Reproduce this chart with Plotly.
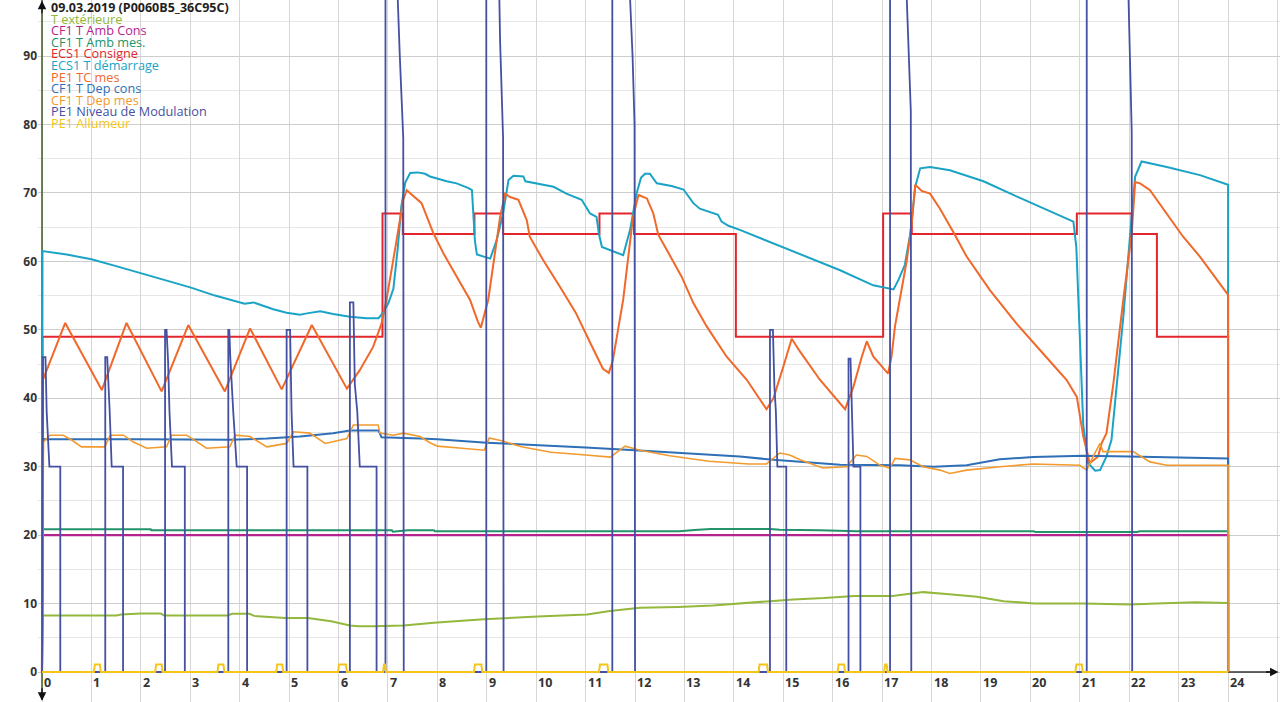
import plotly.graph_objects as go

# ---------------- data ----------------
title_text = "09.03.2019 (P0060B5_36C95C)"
series_names = ["T extérieure", "CF1 T Amb Cons", "CF1 T Amb mes.", "ECS1 Consigne",
                "ECS1 T démarrage", "PE1 TC mes", "CF1 T Dep cons", "CF1 T Dep mes",
                "PE1 Niveau de Modulation", "PE1 Allumeur"]

x_tick_values = [0, 1, 2, 3, 4, 5, 6, 7, 8, 9, 10, 11, 12, 13, 14, 15, 16, 17, 18, 19, 20, 21, 22, 23, 24]
x_tick_labels = ["0", "1", "2", "3", "4", "5", "6", "7", "8", "9", "10", "11", "12",
                 "13", "14", "15", "16", "17", "18", "19", "20", "21", "22", "23", "24"]
y_tick_values = [0, 10, 20, 30, 40, 50, 60, 70, 80, 90]
y_tick_labels = ["0", "10", "20", "30", "40", "50", "60", "70", "80", "90"]

t_exterieure = [(0, 0), (0.01, 8.26), (1.51, 8.26), (1.6, 8.4), (2.0, 8.55), (2.4, 8.55), (2.47, 8.26),
                (3.75, 8.26), (3.85, 8.5), (4.2, 8.5), (4.29, 8.2), (4.92, 7.9), (5.38, 7.9), (5.85, 7.4),
                (6.23, 6.8), (6.4, 6.7), (6.7, 6.7), (7.32, 6.8), (7.93, 7.2), (8.94, 7.7), (10.03, 8.1),
                (11.03, 8.4), (11.49, 8.9), (12.1, 9.4), (12.87, 9.5), (13.57, 9.7), (14.73, 10.35),
                (15.2, 10.6), (15.82, 10.8), (16.44, 11.1), (17.21, 11.1), (17.83, 11.67), (18.3, 11.4),
                (18.92, 11.0), (19.46, 10.35), (20.08, 10.0), (21.08, 10.0), (22.02, 9.87), (22.55, 10.0),
                (23.33, 10.2), (24.0, 10.1), (24.0, 0)]

amb_cons = [(0, 0), (0.01, 20), (24.0, 20), (24.0, 0)]

amb_mes = [(0, 0), (0.01, 20.85), (2.2, 20.85), (2.21, 20.7), (7.08, 20.7), (7.1, 20.5), (7.4, 20.7),
           (7.93, 20.7), (7.95, 20.55), (11.38, 20.55), (11.4, 20.45), (12.1, 20.5), (12.9, 20.55),
           (13.2, 20.75), (13.53, 20.9), (14.73, 20.9), (14.93, 20.8), (15.74, 20.7), (16.5, 20.55),
           (20.07, 20.55), (20.1, 20.45), (22.17, 20.45), (22.2, 20.55), (24.0, 20.55), (24.0, 0)]

ecs_consigne = [(0, 0), (0.01, 49), (6.89, 49), (6.89, 67), (7.30, 67), (7.30, 64), (8.75, 64), (8.75, 67),
                (9.33, 67), (9.33, 64), (11.28, 64), (11.28, 67), (11.98, 67), (11.98, 64), (14.04, 64),
                (14.04, 49), (17.02, 49), (17.02, 67), (17.6, 67), (17.6, 64), (20.94, 64), (20.94, 67),
                (22.05, 67), (22.05, 64), (22.56, 64), (22.56, 49), (24.0, 49), (24.0, 0)]

ecs_t_demarrage = [(0, 0), (0.01, 61.5), (0.5, 61.0), (1.0, 60.3), (1.5, 59.3), (2.0, 58.3), (2.5, 57.2),
                   (3.0, 56.2), (3.5, 55.0), (4.1, 53.8), (4.28, 54.0), (4.68, 53.0), (4.95, 52.5),
                   (5.22, 52.2), (5.36, 52.4), (5.63, 52.7), (5.89, 52.3), (6.23, 51.9), (6.57, 51.7),
                   (6.81, 51.7), (6.91, 52.6), (7.01, 53.9), (7.11, 56), (7.2, 62), (7.27, 68), (7.35, 71.5),
                   (7.45, 72.9), (7.6, 73.0), (7.75, 72.8), (7.85, 72.4), (8.19, 71.7), (8.39, 71.4),
                   (8.63, 70.7), (8.70, 70.4), (8.76, 63), (8.80, 61), (9.07, 60.4), (9.2, 63.1), (9.33, 67),
                   (9.44, 71.9), (9.54, 72.5), (9.74, 72.4), (9.78, 71.7), (10.08, 71.3), (10.35, 70.9),
                   (10.61, 69.9), (10.92, 69.0), (11.09, 67.0), (11.22, 66.5), (11.27, 64), (11.33, 62.1),
                   (11.76, 60.9), (11.9, 64.6), (12.03, 69.9), (12.12, 72.2), (12.2, 72.8), (12.3, 72.8),
                   (12.44, 71.4), (12.74, 71.0), (12.98, 70.5), (13.04, 69.9), (13.18, 68.5), (13.31, 67.7),
                   (13.68, 66.8), (13.75, 65.8), (13.89, 65.2), (14.12, 64.6), (14.8, 62.6), (15.47, 60.7),
                   (16.15, 58.7), (16.82, 56.5), (17.09, 56.1), (17.23, 55.9), (17.33, 57.3), (17.46, 59.5),
                   (17.57, 64.1), (17.67, 70.9), (17.77, 73.6), (17.97, 73.8), (18.37, 73.3), (19.05, 71.7),
                   (19.72, 69.5), (20.4, 67.3), (20.87, 65.8), (20.93, 62), (21.07, 36), (21.17, 30.5),
                   (21.31, 29.4), (21.41, 29.5), (21.54, 31.5), (21.64, 33.9), (21.75, 42.2), (21.88, 51.9),
                   (22.02, 64.1), (22.12, 72.4), (22.25, 74.6), (22.76, 73.8), (23.43, 72.6), (24.0, 71.2),
                   (24.0, 0)]

pe_tc_mes = [(0, 0), (0.02, 42.7), (0.47, 51.0), (1.21, 41.2), (1.71, 51.0), (2.42, 41.0), (2.96, 50.7),
             (3.70, 41.0), (4.21, 50.2), (4.85, 41.3), (5.46, 50.7), (6.17, 41.4), (6.43, 44.1), (6.7, 47.5),
             (6.87, 50.9), (6.97, 54.4), (7.15, 62), (7.31, 69), (7.38, 70.4), (7.55, 69.4), (7.68, 68.5),
             (7.92, 64.1), (8.12, 61.2), (8.39, 57.8), (8.66, 54.4), (8.82, 51.2), (8.88, 50.3), (9.03, 54.4),
             (9.27, 66.5), (9.37, 69.9), (9.47, 69.4), (9.64, 69.0), (9.81, 66.0), (9.87, 63.6), (10.14, 60.2),
             (10.48, 56.3), (10.8, 52.5), (11.1, 48), (11.35, 44.3), (11.47, 43.7), (11.55, 45.5),
             (11.76, 54.4), (11.96, 66.5), (12.07, 69.7), (12.24, 69.2), (12.37, 67.0), (12.47, 63.9),
             (12.64, 61.7), (12.94, 57.8), (13.18, 53.9), (13.45, 50.5), (13.85, 46.1), (14.26, 42.7),
             (14.66, 38.4), (14.8, 40.0), (15.0, 44.6), (15.17, 48.7), (15.34, 46.8), (15.74, 42.7),
             (16.25, 38.4), (16.42, 41.7), (16.59, 46.1), (16.69, 48.3), (16.82, 46.1), (17.12, 43.6),
             (17.19, 46.1), (17.26, 50.5), (17.5, 60.2), (17.6, 65.6), (17.67, 71.2), (17.8, 70.3),
             (17.97, 69.9), (18.17, 67.7), (18.44, 64.3), (18.71, 60.7), (19.18, 55.8), (19.72, 50.9),
             (20.26, 46.5), (20.73, 42.7), (20.94, 40.2), (21.07, 34.4), (21.14, 32.4), (21.2, 30.5),
             (21.37, 31.5), (21.44, 33.4), (21.54, 34.9), (21.68, 42.2), (21.88, 54.4), (22.05, 64.1),
             (22.12, 71.6), (22.22, 71.4), (22.42, 70.4), (22.76, 67.0), (23.09, 63.6), (23.43, 60.7),
             (23.77, 57.3), (24.0, 55.1), (24.0, 0)]

dep_cons = [(0, 0), (0.02, 34.0), (2.0, 34.0), (3.8, 33.95), (4.55, 34.1), (5.22, 34.4), (5.89, 34.9),
            (6.23, 35.3), (6.81, 35.3), (6.87, 34.3), (7.65, 34.1), (8.0, 34.0), (9.0, 33.5), (10.0, 33.2),
            (11.0, 32.8), (12.0, 32.4), (13.0, 32.0), (14.12, 31.5), (14.8, 31.0), (15.47, 30.6),
            (16.15, 30.3), (17.36, 30.2), (18.04, 30.0), (18.71, 30.2), (19.38, 31.1), (20.06, 31.4),
            (21.07, 31.6), (22.0, 31.5), (24.0, 31.2), (24.0, 0)]

dep_mes = [(0, 0), (0.03, 33.6), (0.16, 34.6), (0.43, 34.6), (0.6, 33.9), (0.8, 32.9), (1.27, 32.9),
           (1.38, 34.6), (1.65, 34.6), (1.85, 33.6), (2.12, 32.7), (2.52, 32.9), (2.62, 34.6), (2.93, 34.6),
           (3.33, 32.7), (3.8, 32.9), (3.91, 34.6), (4.21, 34.4), (4.55, 32.9), (4.95, 33.4), (5.09, 35.1),
           (5.42, 34.9), (5.73, 33.4), (6.17, 34.1), (6.3, 36.1), (6.8, 36.1), (6.84, 34.9), (7.11, 34.6),
           (7.31, 34.9), (7.65, 34.4), (7.85, 33.5), (8.0, 33.0), (8.5, 32.7), (8.95, 32.4), (9.05, 34.2),
           (9.3, 33.8), (9.7, 32.9), (10.3, 32.1), (11.0, 31.7), (11.5, 31.4), (11.65, 32.2), (11.8, 33.0),
           (12.1, 32.4), (12.7, 31.6), (13.5, 30.8), (14.3, 30.4), (14.66, 30.4), (14.76, 31.0),
           (14.93, 32.0), (15.13, 31.7), (15.34, 31.0), (15.8, 29.8), (16.28, 30.0), (16.48, 31.7),
           (16.69, 31.5), (16.96, 30.2), (17.16, 29.8), (17.26, 31.2), (17.56, 31.0), (17.83, 30.0),
           (18.17, 29.5), (18.37, 29.0), (18.71, 29.5), (19.38, 30.0), (20.06, 30.4), (21.0, 30.2),
           (21.14, 29.5), (21.27, 31.5), (21.41, 33.4), (21.47, 32.2), (22.08, 32.2), (22.42, 30.7),
           (22.76, 30.2), (23.43, 30.2), (24.0, 30.2), (24.0, 0)]

niveau_modulation = [(0, 0), (0.02, 46), (0.07, 46), (0.095, 38), (0.15, 30), (0.37, 30), (0.37, 0),
                     (1.28, 0), (1.28, 46), (1.32, 46), (1.37, 38), (1.41, 30), (1.64, 30), (1.64, 0),
                     (2.49, 0), (2.49, 50), (2.52, 50), (2.55, 45.6), (2.58, 38), (2.63, 30), (2.89, 30), (2.89, 0),
                     (3.77, 0), (3.77, 50), (3.79, 50), (3.81, 46), (3.87, 38), (3.94, 30), (4.15, 30), (4.15, 0),
                     (4.95, 0), (4.95, 50), (5.02, 50), (5.05, 38), (5.09, 30), (5.37, 30), (5.37, 0),
                     (6.23, 0), (6.23, 54), (6.30, 54), (6.33, 42), (6.38, 38), (6.43, 30), (6.77, 30), (6.77, 0),
                     (6.95, 0), (6.95, 100), (7.19, 100), (7.24, 90), (7.31, 78), (7.32, 0),
                     (8.99, 0), (8.99, 100), (9.25, 100), (9.27, 92), (9.30, 84), (9.33, 78), (9.34, 0),
                     (11.54, 0), (11.54, 100), (11.89, 100), (11.95, 90), (11.99, 80), (12.0, 0),
                     (14.73, 0), (14.73, 50), (14.79, 50), (14.82, 41.7), (14.85, 38), (14.88, 30), (15.06, 30), (15.06, 0),
                     (16.32, 0), (16.32, 45.8), (16.36, 45.8), (16.39, 37.8), (16.42, 30), (16.56, 30), (16.56, 0),
                     (17.16, 0), (17.16, 100), (17.49, 100), (17.58, 82), (17.59, 0),
                     (21.14, 0), (21.14, 100), (21.98, 100), (22.05, 79), (22.06, 0),
                     (24.0, 0)]

allumeur = [(0, 0), (1.05, 0), (1.07, 1.1), (1.17, 1.1), (1.19, 0), (2.29, 0), (2.31, 1.1), (2.42, 1.1), (2.44, 0),
            (3.55, 0), (3.57, 1.1), (3.67, 1.1), (3.69, 0), (4.74, 0), (4.76, 1.1), (4.86, 1.1), (4.88, 0),
            (5.99, 0), (6.01, 1.1), (6.15, 1.1), (6.17, 0), (6.90, 0), (6.92, 1.1), (6.94, 1.1), (6.96, 0),
            (8.74, 0), (8.76, 1.1), (8.89, 1.1), (8.91, 0), (11.27, 0), (11.29, 1.1), (11.44, 1.1), (11.46, 0),
            (14.50, 0), (14.52, 1.1), (14.67, 1.1), (14.69, 0), (16.10, 0), (16.12, 1.1), (16.23, 1.1), (16.25, 0),
            (17.04, 0), (17.06, 1.1), (17.09, 1.1), (17.11, 0), (20.91, 0), (20.93, 1.1), (21.04, 1.1), (21.06, 0),
            (24.0, 0)]

series_data = [t_exterieure, amb_cons, amb_mes, ecs_consigne, ecs_t_demarrage,
               pe_tc_mes, dep_cons, dep_mes, niveau_modulation, allumeur]

# ---------------- styling ----------------
series_colors = ["#94b83c", "#b4238f", "#22936a", "#e3262c", "#1ba3c6",
                 "#f0682a", "#2e6fb7", "#f39a2e", "#4450a2", "#f5c518"]
series_widths = [2, 2.2, 2, 2, 2, 2, 2, 1.6, 1.8, 2]

W, H = 1280, 702
L = 38
x0_px, px_per_h = 42, 49.42
y0_px, px_per_u = 672, 6.844
x_range = [(L - x0_px) / px_per_h, (W - x0_px) / px_per_h]
y_range = [-(H - y0_px) / px_per_u, y0_px / px_per_u]
plot_w = W - L

FONT = "Open Sans"

fig = go.Figure()
for name, pts, col, lw in zip(series_names, series_data, series_colors, series_widths):
    fig.add_trace(go.Scatter(x=[p[0] for p in pts], y=[p[1] for p in pts], mode="lines",
                             name=name, line=dict(color=col, width=lw), hoverinfo="skip"))

fig.update_layout(
    width=W, height=H, margin=dict(l=L, r=0, t=0, b=0),
    plot_bgcolor="white", paper_bgcolor="white", showlegend=False,
    xaxis=dict(range=x_range, showgrid=True, gridcolor="#d6d6d6", gridwidth=1, dtick=1, tick0=0,
               zeroline=False, showticklabels=False, ticks="", showline=False, fixedrange=True),
    yaxis=dict(range=y_range, tickvals=y_tick_values, ticktext=y_tick_labels, showgrid=True,
               gridcolor="#cdcdcd", gridwidth=1, zeroline=False, ticks="", showline=False,
               tickfont=dict(family=FONT, size=12, color="#333333", weight="bold"),
               minor=dict(dtick=5, tick0=0, showgrid=True, gridcolor="#e6e6e6", gridwidth=1),
               fixedrange=True),
)

# axis lines
fig.add_shape(type="line", x0=0, x1=0, y0=y_range[0] + 0.3, y1=y_range[1], xref="x", yref="y",
              line=dict(color="#3d5a20", width=1.5), layer="between")
fig.add_shape(type="line", x0=0, x1=x_range[1] - 0.1, y0=0, y1=0, xref="x", yref="y",
              line=dict(color="#333333", width=1.5), layer="between")

# arrows
fig.add_annotation(x=0, y=y_range[1] - 0.1, ax=0, ay=14, xref="x", yref="y", text="", showarrow=True,
                   arrowhead=2, arrowsize=1.3, arrowwidth=1.3, arrowcolor="#111111")
fig.add_annotation(x=0, y=y_range[0] + 0.2, ax=0, ay=-14, xref="x", yref="y", text="", showarrow=True,
                   arrowhead=2, arrowsize=1.3, arrowwidth=1.3, arrowcolor="#111111")
fig.add_annotation(x=x_range[1] - 0.03, y=0, ax=-14, ay=0, xref="x", yref="y", text="", showarrow=True,
                   arrowhead=2, arrowsize=1.3, arrowwidth=1.3, arrowcolor="#111111")

# x tick labels (left aligned just right of each grid line, under the axis)
for v, lab in zip(x_tick_values, x_tick_labels):
    fig.add_annotation(x=v, y=0, xref="x", yref="y", text=lab, showarrow=False,
                       xanchor="left", yanchor="top", xshift=0, yshift=0,
                       font=dict(family=FONT, size=12.5, color="#333333", weight="bold"))

# title + colored series names (tightly stacked, as in the reference)
line_step = 11.6
legend_x = (50 - L) / plot_w
legend_lines = [(title_text, "#1e1e1e")] + list(zip(series_names, series_colors))
for i, (txt, col) in enumerate(legend_lines):
    py = 7 + line_step * i
    fig.add_annotation(x=legend_x, y=1 - py / H, xref="paper", yref="paper", text=txt, showarrow=False,
                       xanchor="left", yanchor="middle", borderpad=0,
                       font=dict(family=FONT, size=12.5 if i == 0 else 12.7, color=col,
                                 weight="bold" if i == 0 else "normal"))

fig.write_html("out.html", config={"displayModeBar": False},
               post_script="document.body.style.margin='0';")
